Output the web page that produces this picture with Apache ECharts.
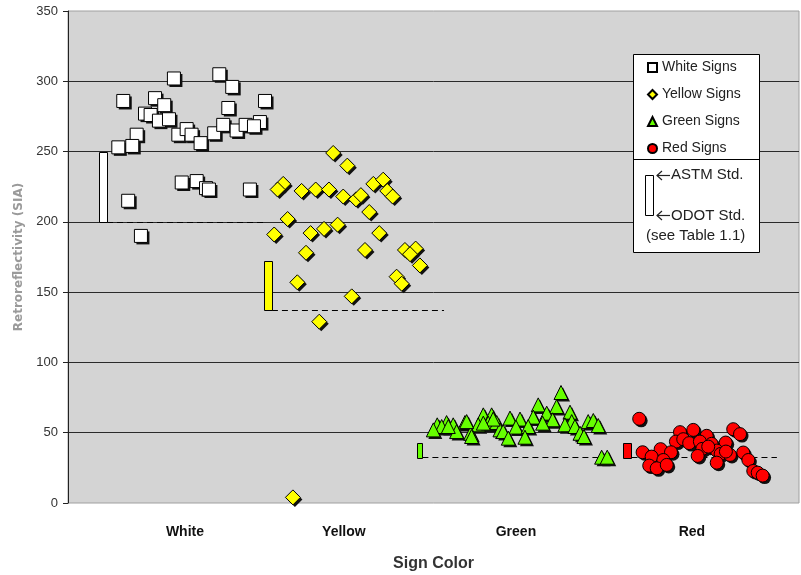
<!DOCTYPE html>
<html>
<head>
<meta charset="utf-8">
<script src="https://cdn.jsdelivr.net/npm/echarts@6/dist/echarts.min.js"></script>
<style>html,body{margin:0;padding:0;background:#fff}#c{width:801px;height:575px}</style>
</head>
<body>
<div id="c"></div>
<script>
// ---- data ----
const categories = ['White', 'Yellow', 'Green', 'Red'];
const categoryPos = [1.0, 1.935, 2.947, 3.982];
const yTicks = [0, 50, 100, 150, 200, 250, 300, 350];

const whiteSigns = [[0.935,302],[1.202,305],[1.278,296],[0.637,286],[0.824,288],[0.878,283],[1.471,286],[1.255,281],[0.765,277],[0.798,276],[0.847,272],[0.906,273],[0.716,262],[0.961,262],[1.010,266],[1.039,262],[1.092,256],[1.172,263],[1.225,269],[1.304,265],[1.357,269],[1.441,271],[1.406,268],[0.608,253],[0.690,254],[0.981,228],[1.069,229],[1.124,224],[1.141,223],[1.382,223],[0.666,215],[0.741,190]];
const yellowSigns = [[1.872,249],[1.955,240],[1.578,227],[1.545,223],[1.686,222],[1.769,223],[1.847,223],[1.931,218],[2.006,216],[2.035,219],[2.108,227],[2.166,230],[2.190,222],[2.222,218],[2.084,207],[1.604,202],[1.525,191],[1.739,192],[1.818,195],[1.898,198],[2.143,192],[1.712,178],[2.059,180],[2.294,180],[2.357,181],[2.324,177],[2.382,169],[2.245,161],[2.275,156],[1.661,157],[1.981,147],[1.790,129],[1.635,4]];
const greenSigns = [[3.212,78.6],[3.078,69.8],[3.186,68.6],[3.128,63.9],[3.265,64.6],[3.049,61.1],[3.163,59.2],[3.275,57.9],[2.755,62.7],[2.804,62.7],[2.912,60.4],[2.971,59.7],[2.647,57.2],[2.725,55.6],[2.784,56.8],[2.834,57.2],[2.539,57.2],[2.578,55.6],[2.484,55.6],[2.510,54.4],[2.461,52.0],[2.598,50.8],[2.681,49.6],[2.853,52.0],[2.947,54.0],[3.019,54.4],[3.104,56.8],[3.235,55.6],[3.294,54.4],[3.372,57.9],[3.402,58.7],[3.431,55.1],[3.324,49.6],[3.347,47.3],[2.872,50.8],[2.902,46.1],[3.000,46.8],[2.686,47.3],[3.451,32.6],[3.484,32.6],[2.657,57.9],[2.549,54.4],[2.813,59.7],[2.755,56.8]];
const redSigns = [[3.672,59.9],[3.912,50.4],[3.990,52.0],[4.069,47.8],[4.225,52.5],[4.265,49.0],[3.888,43.7],[3.931,45.4],[3.966,42.6],[4.029,43.7],[4.098,42.1],[4.181,43.0],[3.798,38.3],[3.859,36.1],[4.043,38.5],[4.128,37.3],[3.692,36.1],[3.745,33.0],[3.814,30.6],[4.016,33.5],[4.151,34.9],[4.206,34.2],[4.284,35.9],[4.314,30.6],[3.731,26.6],[3.775,24.7],[3.834,27.1],[4.128,28.7],[4.343,22.8],[4.369,21.6],[4.398,19.5],[4.182,36.6],[4.078,40.1]];

// standards: bar position, ODOT (low), ASTM (high), dashed line end
const stdX = [0.518, 1.488, 2.382, 3.603];
const odotStd = [200, 137, 32.5, 32.6];
const astmStd = [250, 172, 43, 43];
const stdLineEnd = [1.47, 2.524, 3.441, 4.482];

// ---- chart ----
const FONT = '"Liberation Sans", Arial, sans-serif';
const stdFill = ['#ffffff', '#ffff00', '#66ff00', '#ff0000'];
const stdWidth = [8, 8, 5, 8];
const stdData = stdX.map((x, i) => [x, odotStd[i], astmStd[i], stdLineEnd[i]]);

const groups = [
  {name: 'White Signs', data: whiteSigns, symbol: 'rect', size: 13, fill: '#ffffff'},
  {name: 'Yellow Signs', data: yellowSigns, symbol: 'diamond', size: 15, fill: '#ffff00'},
  {name: 'Green Signs', data: greenSigns, symbol: 'triangle', size: 14, fill: '#66ff00'},
  {name: 'Red Signs', data: redSigns, symbol: 'circle', size: 13, fill: '#ff0000'}
];

const scatterSeries = [];
groups.forEach(g => {
  scatterSeries.push({
    name: g.name + ' (shadow)', type: 'scatter', data: g.data, symbol: g.symbol, symbolSize: g.size,
    symbolOffset: [2, 2], silent: true, z: 3,
    itemStyle: {color: '#111', opacity: 1, borderWidth: 0}
  });
  scatterSeries.push({
    name: g.name, type: 'scatter', data: g.data, symbol: g.symbol, symbolSize: g.size, z: 4,
    itemStyle: {color: g.fill, opacity: 1, borderColor: '#000', borderWidth: 1}
  });
});

function arrow(x1, x2, y) {
  return {type: 'group', z: 11, children: [
    {type: 'line', z: 11, shape: {x1: x1, y1: y, x2: x2, y2: y}, style: {stroke: '#222', lineWidth: 1.2}},
    {type: 'polyline', z: 11, shape: {points: [[x1 + 5, y - 4.5], [x1, y], [x1 + 5, y + 4.5]]}, style: {stroke: '#222', lineWidth: 1.2, fill: null}}
  ]};
}

const chart = echarts.init(document.getElementById('c'), null, {renderer: 'canvas'});
chart.setOption({
  animation: false,
  backgroundColor: '#ffffff',
  textStyle: {fontFamily: FONT},
  grid: {left: 68, right: 2, top: 11, bottom: 72, show: true, outerBoundsMode: 'none', containLabel: false,
         backgroundColor: '#d4d4d4', borderColor: '#a0a0a0', borderWidth: 1},
  xAxis: {
    type: 'value', min: 0.312, max: 4.612,
    name: 'Sign Color', nameLocation: 'middle', nameGap: 53, nameMoveOverlap: false,
    nameTextStyle: {fontFamily: FONT, fontSize: 16, fontWeight: 'bold', color: '#333'},
    axisLine: {show: false}, axisTick: {show: false}, splitLine: {show: false},
    axisLabel: {
      customValues: categoryPos, margin: 22,
      fontFamily: FONT, fontSize: 14, fontWeight: 'bold', color: '#111',
      formatter: (v) => { const i = categoryPos.findIndex(p => Math.abs(p - v) < 1e-6); return i >= 0 ? categories[i] : ''; }
    }
  },
  yAxis: {
    type: 'value', min: yTicks[0], max: yTicks[yTicks.length - 1], interval: 50,
    name: 'Retroreflectivity (SIA)', nameLocation: 'middle', nameGap: 43, nameRotate: 90, nameMoveOverlap: false,
    nameTextStyle: {fontFamily: '"DejaVu Sans", Verdana, sans-serif', fontSize: 12, fontWeight: 'bold', color: '#9a9a9a'},
    axisLine: {show: true, lineStyle: {color: '#222', width: 1}},
    axisTick: {show: true, length: 5, lineStyle: {color: '#222'}},
    axisLabel: {margin: 10, fontFamily: FONT, fontSize: 13, color: '#333'},
    splitLine: {show: true, showMinLine: false, showMaxLine: false, lineStyle: {color: '#2a2a2a', width: 1}}
  },
  legend: {
    data: groups.map(g => g.name),
    orient: 'vertical', left: 647, top: 60, itemWidth: 9, itemHeight: 9, itemGap: 12,
    padding: 0, z: 20,
    textStyle: {fontFamily: FONT, fontSize: 14, color: '#222', lineHeight: 15}
  },
  graphic: [
    {type: 'rect', z: 10, shape: {x: 633.5, y: 54.5, width: 126, height: 198},
     style: {fill: '#fff', stroke: '#000', lineWidth: 1}},
    {type: 'line', z: 11, shape: {x1: 633.5, y1: 159.5, x2: 759.5, y2: 159.5},
     style: {stroke: '#000', lineWidth: 1}},
    {type: 'rect', z: 11, shape: {x: 645.5, y: 175.5, width: 8, height: 40},
     style: {fill: '#fff', stroke: '#000', lineWidth: 1}},
    arrow(657, 670, 175.5),
    {type: 'text', z: 11, x: 671, y: 167, style: {text: 'ASTM Std.', font: '15px ' + FONT, fill: '#222'}},
    arrow(657, 670, 215.5),
    {type: 'text', z: 11, x: 671, y: 208, style: {text: 'ODOT Std.', font: '15px ' + FONT, fill: '#222'}},
    {type: 'text', z: 11, x: 646, y: 228, style: {text: '(see Table 1.1)', font: '15px ' + FONT, fill: '#222'}}
  ],
  series: [
    {
      name: 'Standards', type: 'custom', data: stdData, z: 2,
      encode: {x: [0, 3], y: [1, 2]},
      renderItem: function (params, api) {
        const i = params.dataIndex;
        const w = stdWidth[i];
        const pLo = api.coord([api.value(0), api.value(1)]);
        const pHi = api.coord([api.value(0), api.value(2)]);
        const pEnd = api.coord([api.value(3), api.value(1)]);
        return {type: 'group', children: [
          {type: 'line', shape: {x1: pLo[0] + w / 2, y1: Math.round(pLo[1]) + 0.5, x2: pEnd[0], y2: Math.round(pLo[1]) + 0.5},
           style: {stroke: '#000', lineWidth: 1, lineDash: [6, 4]}},
          {type: 'rect', shape: {x: Math.round(pLo[0] - w / 2) + 0.5, y: Math.round(pHi[1]) + 0.5, width: w, height: Math.round(pLo[1] - pHi[1])},
           style: {fill: stdFill[i], stroke: '#000', lineWidth: 1}}
        ]};
      }
    }
  ].concat(scatterSeries)
});
</script>
</body>
</html>
